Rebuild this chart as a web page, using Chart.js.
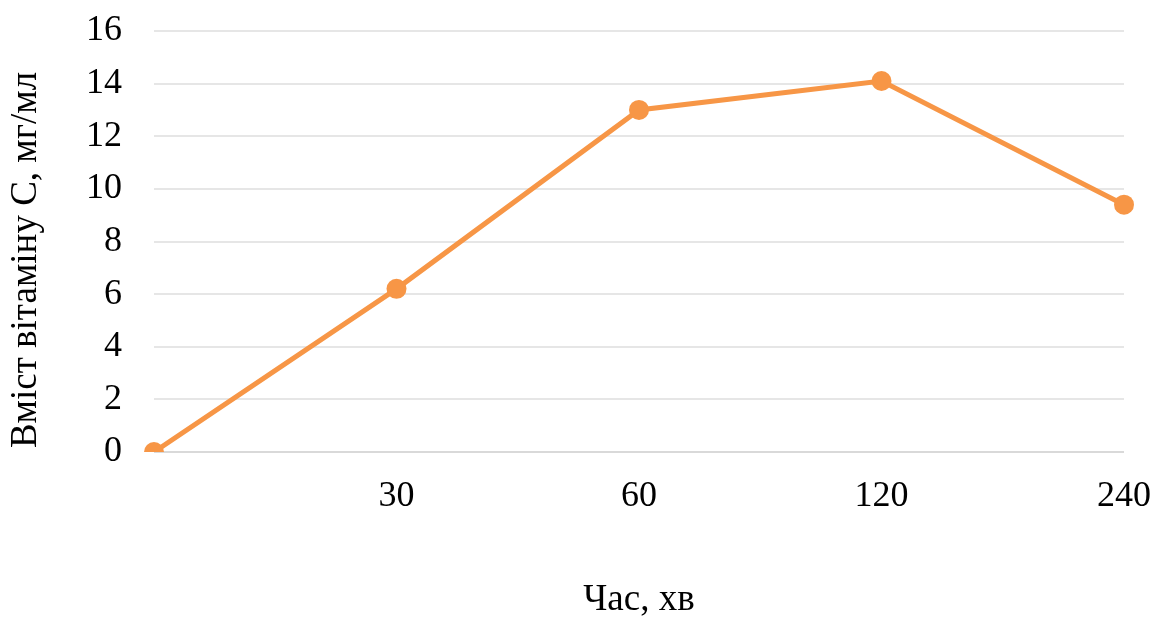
<!DOCTYPE html>
<html>
<head>
<meta charset="utf-8">
<script src="https://cdn.jsdelivr.net/npm/chart.js@4"></script>
<style>
  html, body { margin: 0; padding: 0; background: #fff; }
  #wrap { width: 1154px; height: 619px; position: relative; }
</style>
</head>
<body>
<div id="wrap"><canvas id="chart"></canvas></div>
<script>
// Дані графіка
const timeLabels = ['', '30', '60', '120', '240'];
const vitaminC = [0, 6.2, 13, 14.1, 9.4];
const yTitle = 'Вміст вітаміну С, мг/мл';
const xTitle = 'Час, хв';

const font = 'Liberation Serif';
const ctx = document.getElementById('chart').getContext('2d');

new Chart(ctx, {
  type: 'line',
  data: {
    labels: timeLabels,
    datasets: [{
      data: vitaminC,
      borderColor: '#f79646',
      backgroundColor: '#f79646',
      borderWidth: 5,
      pointRadius: 10,
      pointHoverRadius: 10,
      pointBorderWidth: 0,
      pointBackgroundColor: '#f79646',
      tension: 0
    }]
  },
  options: {
    responsive: true,
    maintainAspectRatio: false,
    animation: false,
    layout: { padding: { top: 31, right: 30, left: 0, bottom: 0 } },
    plugins: {
      legend: { display: false },
      tooltip: { enabled: false }
    },
    scales: {
      x: {
        offset: false,
        grid: { display: false, drawTicks: false },
        border: { display: false },
        ticks: {
          color: '#000',
          font: { family: font, size: 36 },
          padding: 23,
          maxRotation: 0,
          autoSkip: false
        },
        title: {
          display: true,
          text: xTitle,
          color: '#000',
          font: { family: font, size: 37, lineHeight: 1 },
          padding: { top: 0, bottom: 0 }
        },
        afterFit: scale => {
          scale.height = 167;
          scale.paddingLeft = 0;
          scale.paddingRight = 0;
        }
      },
      y: {
        min: 0,
        max: 16,
        ticks: {
          stepSize: 2,
          color: '#000',
          font: { family: font, size: 36 },
          padding: 32
        },
        grid: {
          drawTicks: false,
          lineWidth: 2,
          color: c => c.tick && c.tick.value === 0 ? '#d9d9d9' : '#e6e6e6'
        },
        border: { display: false },
        title: {
          display: true,
          text: yTitle + '    ',
          color: '#000',
          font: { family: font, size: 37, lineHeight: 1 },
          padding: { top: 8, bottom: 0 }
        },
        afterFit: scale => {
          scale.width = 154;
          scale.paddingTop = 0;
          scale.paddingBottom = 0;
        }
      }
    }
  }
});
</script>
</body>
</html>
